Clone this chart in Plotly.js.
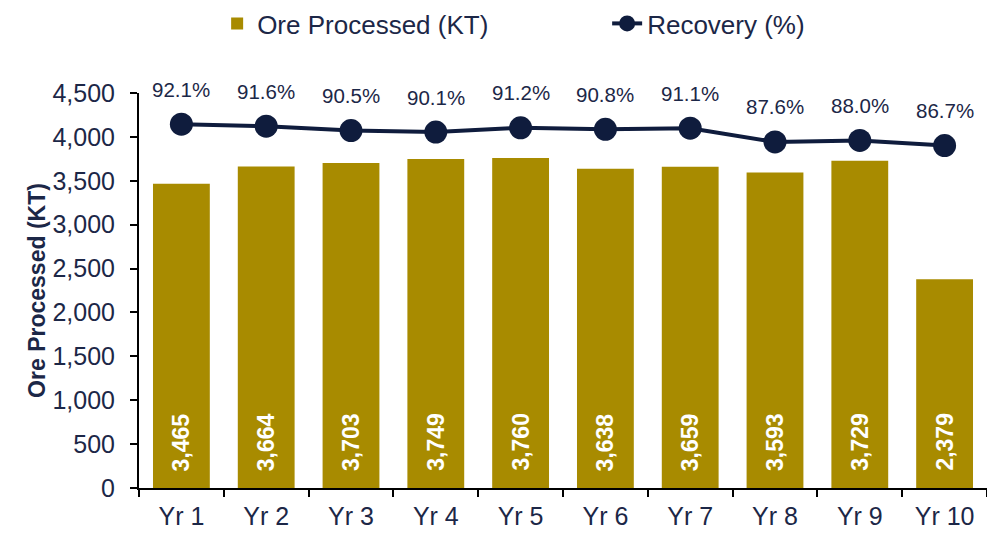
<!DOCTYPE html>
<html>
<head>
<meta charset="utf-8">
<script src="https://cdn.plot.ly/plotly-3.0.1.min.js"></script>
<style>
  html, body { margin: 0; padding: 0; background: #fff; }
  #chart { width: 987px; height: 533px; }
</style>
</head>
<body>
<div id="chart"></div>
<script>
// Chart data
const years = ['Yr 1', 'Yr 2', 'Yr 3', 'Yr 4', 'Yr 5', 'Yr 6', 'Yr 7', 'Yr 8', 'Yr 9', 'Yr 10'];
const oreProcessed = [3465, 3664, 3703, 3749, 3760, 3638, 3659, 3593, 3729, 2379];
const recovery = [92.1, 91.6, 90.5, 90.1, 91.2, 90.8, 91.1, 87.6, 88.0, 86.7];

const GOLD = '#A88B00';
const NAVY = '#0F1C3D';
const TEXT = '#1C2747';
const FONT = 'Liberation Sans, Arial, sans-serif';

const fmt = v => v.toLocaleString('en-US');

// White rotated values sitting at the foot of each bar
const barLabels = years.map((yr, i) => ({
  x: yr, y: 0, xref: 'x', yref: 'y',
  text: fmt(oreProcessed[i]),
  textangle: -90,
  yanchor: 'bottom',
  yshift: 15,
  showarrow: false,
  font: { family: FONT, size: 23, color: '#ffffff', weight: 'bold' },
}));

// Recovery % labels above the markers
const pctLabels = years.map((yr, i) => ({
  x: yr, y: recovery[i], xref: 'x', yref: 'y2',
  text: recovery[i].toFixed(1) + '%',
  yanchor: 'middle',
  yshift: 35,
  showarrow: false,
  font: { family: FONT, size: 20.5, color: TEXT },
}));

const traces = [
  {
    x: years,
    y: oreProcessed,
    type: 'bar',
    name: 'Ore Processed (KT)',
    marker: { color: GOLD },
    hoverinfo: 'skip',
  },
  {
    x: years,
    y: recovery,
    type: 'scatter',
    mode: 'lines+markers',
    name: 'Recovery (%)',
    yaxis: 'y2',
    line: { color: NAVY, width: 4 },
    marker: { color: NAVY, size: 23 },
    hoverinfo: 'skip',
  }
];

const layout = {
  width: 987,
  height: 533,
  margin: { l: 139, r: 0, t: 93, b: 45, autoexpand: false },
  paper_bgcolor: '#ffffff',
  plot_bgcolor: '#ffffff',
  font: { family: FONT, color: TEXT, size: 25 },
  bargap: 0.33,
  showlegend: true,
  legend: {
    orientation: 'h',
    xref: 'container', yref: 'container',
    x: 0.22, xanchor: 'left',
    y: 1.0, yanchor: 'top',
    font: { family: FONT, size: 26, color: TEXT },
    entrywidth: 345,
    traceorder: 'normal',
  },
  xaxis: {
    type: 'category',
    range: [-0.5, years.length - 0.5],
    automargin: false,
    showline: true,
    linecolor: '#000000',
    linewidth: 2,
    ticks: 'outside',
    tickson: 'boundaries',
    ticklen: 7,
    tickwidth: 2,
    tickcolor: '#000000',
    ticklabelstandoff: 5,
    showgrid: false,
    tickfont: { family: FONT, size: 25, color: TEXT },
  },
  yaxis: {
    automargin: false,
    range: [0, 4500],
    dtick: 500,
    tickformat: ',d',
    showline: true,
    linecolor: '#000000',
    linewidth: 2,
    ticks: 'outside',
    ticklen: 7,
    tickwidth: 2,
    tickcolor: '#000000',
    ticklabelstandoff: 10,
    showgrid: false,
    zeroline: false,
    tickfont: { family: FONT, size: 25, color: TEXT },
    title: {
      text: 'Ore Processed (KT)',
      font: { family: FONT, size: 23, color: TEXT, weight: 'bold' },
    },
  },
  yaxis2: {
    overlaying: 'y',
    side: 'right',
    range: [0, 100],
    visible: false,
    showgrid: false,
    zeroline: false,
  },
  annotations: barLabels.concat(pctLabels),
};

Plotly.newPlot('chart', traces, layout, { displayModeBar: false, staticPlot: true });
</script>
</body>
</html>
